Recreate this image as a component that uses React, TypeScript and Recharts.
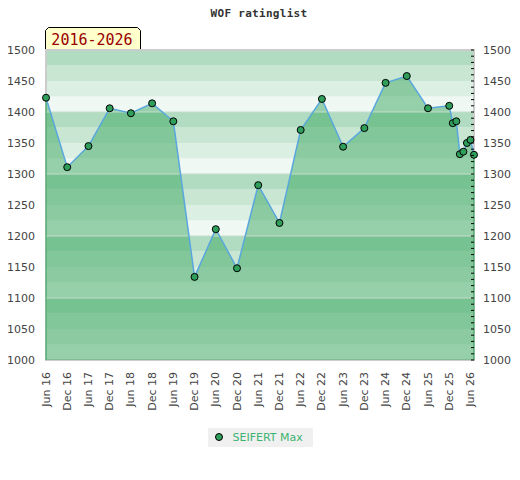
import {
  Area,
  ComposedChart,
  Legend,
  Line,
  ReferenceArea,
  ReferenceLine,
  XAxis,
  YAxis,
} from "recharts";

// months since Jun 2016
const months = [
  0, 6, 12, 18, 24, 30, 36, 42, 48, 54, 60, 66, 72, 78, 84, 90, 96, 102, 108, 114,
  115, 116, 117, 118, 119, 120, 121,
];
const ratings = [
  1423, 1311, 1345, 1406, 1398, 1414, 1385, 1134, 1211, 1148, 1282, 1221, 1371, 1421,
  1344, 1374, 1447, 1458, 1406, 1410, 1382, 1385, 1332, 1336, 1350, 1355, 1331,
];

const tickMonths = [0, 6, 12, 18, 24, 30, 36, 42, 48, 54, 60, 66, 72, 78, 84, 90, 96, 102, 108, 114, 120];
const tickLabels = [
  "Jun 16", "Dec 16", "Jun 17", "Dec 17", "Jun 18", "Dec 18", "Jun 19", "Dec 19",
  "Jun 20", "Dec 20", "Jun 21", "Dec 21", "Jun 22", "Dec 22", "Jun 23", "Dec 23",
  "Jun 24", "Dec 24", "Jun 25", "Dec 25", "Jun 26",
];
const yTicks = [1000, 1050, 1100, 1150, 1200, 1250, 1300, 1350, 1400, 1450, 1500];
const minorTicks = Array.from({ length: 51 }, (_, i) => 1000 + i * 10);
const hundreds = [1100, 1200, 1300, 1400];

// band shades inside each 100 block, bottom to top
const BAND_COLORS = ["#f0f8f3", "#dcefe3", "#c8e6d2", "#b2dcc1"];
const bands = Array.from({ length: 20 }, (_, i) => 1000 + i * 25);

const data = months.map((m, i) => ({ m, rating: ratings[i] }));

const FONT = "DejaVu Sans, sans-serif";
const GREEN = "#3ca861";

function XTick({ x, y, payload }: any) {
  const idx = tickMonths.indexOf(payload.value);
  return (
    <text
      x={x}
      y={y}
      transform={`rotate(-90 ${x} ${y})`}
      textAnchor="end"
      dominantBaseline="central"
      fontSize={11}
      fontFamily={FONT}
      fill="#444"
    >
      {tickLabels[idx]}
    </text>
  );
}

// right axis: a small inward dash every 10, a label every 50
function RightTick({ x, y, payload }: any) {
  const edge = x - 9;
  return (
    <g>
      <line x1={edge - 3} x2={edge} y1={y} y2={y} stroke="#000" />
      {payload.value % 50 === 0 && (
        <text x={x} y={y} dy="0.355em" fontSize={11} fontFamily={FONT} fill="#444">
          {payload.value}
        </text>
      )}
    </g>
  );
}

function LegendBox({ payload }: any) {
  const item = (payload || [])[0];
  return (
    <div style={{ display: "flex", justifyContent: "center" }}>
      <div
        style={{
          background: "#f0f0f0",
          height: 19,
          width: 105,
          display: "flex",
          alignItems: "center",
          fontFamily: FONT,
          fontSize: 11,
          color: "#3cb371",
        }}
      >
        <svg width={25} height={19}>
          <circle cx={11} cy={9} r={3.5} fill="#2f9e5a" stroke="#000" strokeWidth={1} />
        </svg>
        <span>{item ? item.value : "SEIFERT Max"}</span>
      </div>
    </div>
  );
}

export default function App() {
  return (
    <div style={{ position: "absolute", left: 0, top: 0 }}>
      <ComposedChart
        width={520}
        height={480}
        data={data}
        margin={{ top: 50, right: 0, bottom: 33, left: 0 }}
      >
        <XAxis
          dataKey="m"
          type="number"
          domain={[0, 121]}
          ticks={tickMonths}
          interval={0}
          height={68}
          tickLine={false}
          axisLine={false}
          tickSize={6}
          tickMargin={6}
          tick={<XTick />}
        />
        <YAxis
          domain={[1000, 1500]}
          ticks={yTicks}
          width={46}
          tickLine={false}
          axisLine={false}
          tickSize={6}
          tickMargin={5}
          tick={{ fill: "#444", fontSize: 11, fontFamily: FONT }}
        />
        <YAxis
          yAxisId="right"
          orientation="right"
          domain={[1000, 1500]}
          ticks={minorTicks}
          interval={0}
          width={46}
          tickLine={false}
          axisLine={false}
          tickSize={6}
          tickMargin={3}
          tick={<RightTick />}
        />
        {bands.map((b, i) => (
          <ReferenceArea
            key={b}
            y1={b}
            y2={b + 25}
            fill={BAND_COLORS[i % 4]}
            fillOpacity={1}
            stroke="none"
          />
        ))}
        {hundreds.map((h) => (
          <ReferenceLine key={h} y={h} stroke="#c4dccb" />
        ))}
        <ReferenceArea y1={1000} y2={1500} fill="none" stroke="#cccccc" strokeWidth={2} />
        <Area
          dataKey="rating"
          type="linear"
          baseValue={1000}
          fill={GREEN}
          fillOpacity={0.5}
          stroke="none"
          legendType="none"
          isAnimationActive={false}
        />
        <ReferenceLine
          segment={[
            { x: months[0], y: 1000 },
            { x: months[0], y: ratings[0] },
          ]}
          stroke={GREEN}
        />
        <ReferenceLine
          segment={[
            { x: months[months.length - 1], y: 1000 },
            { x: months[months.length - 1], y: ratings[ratings.length - 1] },
          ]}
          stroke={GREEN}
        />
        <Line
          yAxisId="right"
          dataKey="rating"
          name="SEIFERT Max"
          type="linear"
          stroke="#59a7dd"
          strokeWidth={1.5}
          dot={{ r: 3.5, fill: "#2f9e5a", stroke: "#000", strokeWidth: 1 }}
          activeDot={false}
          isAnimationActive={false}
        />
        <Legend verticalAlign="bottom" content={<LegendBox />} />
        <text
          x={259}
          y={17}
          textAnchor="middle"
          fontFamily="DejaVu Sans Mono, monospace"
          fontSize={11}
          fontWeight="bold"
          fill="#333"
          letterSpacing={0.3}
        >
          WOF ratinglist
        </text>
        <path d="M45.5 50 L45.5 30.5 L48.5 27.5 L137.5 27.5 L140.5 30.5 L140.5 50" fill="#ffffcc" stroke="#000" />
        <text
          x={92}
          y={45}
          textAnchor="middle"
          fontFamily="DejaVu Sans Mono, monospace"
          fontSize={15}
          fill="#990000"
        >
          2016-2026
        </text>
      </ComposedChart>
    </div>
  );
}
